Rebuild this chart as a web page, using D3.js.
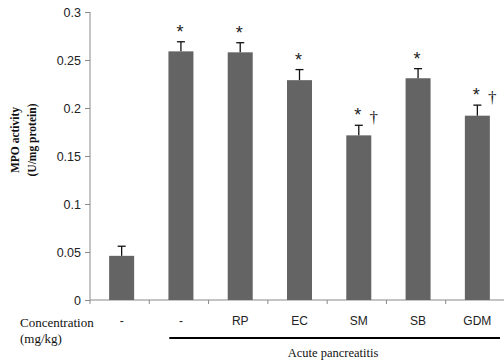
<!DOCTYPE html>
<html><head><meta charset="utf-8">
<script src="https://cdn.jsdelivr.net/npm/d3@7"></script>
<style>body{margin:0;background:#fff}svg{display:block}</style>
</head><body>
<script>
const categories = ["-", "-", "RP", "EC", "SM", "SB", "GDM"];
const values = [0.046, 0.259, 0.258, 0.229, 0.1715, 0.231, 0.192];
const errors = [0.010, 0.010, 0.010, 0.011, 0.0105, 0.010, 0.011];
const marks = ["", "*", "*", "*", "* †", "*", "* †"];
const yTicks = [0, 0.05, 0.1, 0.15, 0.2, 0.25, 0.3];

const W = 504, H = 362;
const svg = d3.select("body").append("svg").attr("width", W).attr("height", H);
const sans = "'Liberation Sans', Arial, sans-serif";
const serif = "'Liberation Serif', 'Times New Roman', serif";

const x = d3.scaleBand().domain(d3.range(categories.length)).range([90, 505]).paddingInner(0).paddingOuter(0);
const y = d3.scaleLinear().domain([0, 0.3]).range([300, 12]);
const bw = 25;

// y axis
const ya = svg.append("g").attr("transform", "translate(90,0)")
  .call(d3.axisLeft(y).tickValues(yTicks).tickSize(5).tickFormat(d => d === 0 ? "0" : String(d)));
ya.select(".domain").attr("stroke", "#8a8a8a").attr("d", "M0,12V300");
ya.selectAll(".tick line").attr("stroke", "#8a8a8a");
ya.selectAll(".tick text").attr("font-family", sans).attr("font-size", 12.5).attr("fill", "#222").attr("x", -9);

// x axis
const xa = svg.append("g").attr("transform", "translate(0,300)");
xa.append("line").attr("x1", 90).attr("x2", 504).attr("y1", 0).attr("y2", 0).attr("stroke", "#8a8a8a");
xa.selectAll("line.t").data(d3.range(categories.length)).join("line").attr("class", "t")
  .attr("x1", d => x(d)).attr("x2", d => x(d)).attr("y1", 0).attr("y2", 4).attr("stroke", "#8a8a8a");
xa.selectAll("text").data(categories).join("text")
  .attr("x", (d, i) => x(i) + x.bandwidth() / 2 + 2).attr("y", 25)
  .attr("text-anchor", "middle").attr("font-family", sans)
  .attr("font-size", 12).attr("fill", "#222").text(d => d);

// bars
svg.selectAll("rect.bar").data(values).join("rect").attr("class", "bar")
  .attr("x", (d, i) => x(i) + x.bandwidth() / 2 + 2 - bw / 2).attr("width", bw)
  .attr("y", d => y(d)).attr("height", d => 300 - y(d)).attr("fill", "#646464");

// error bars
const eb = svg.append("g").attr("stroke", "#111").attr("stroke-width", 1.3);
values.forEach((v, i) => {
  const cx = x(i) + x.bandwidth() / 2 + 2;
  eb.append("line").attr("x1", cx).attr("x2", cx).attr("y1", y(v)).attr("y2", y(v + errors[i]));
  eb.append("line").attr("x1", cx - 4).attr("x2", cx + 4).attr("y1", y(v + errors[i])).attr("y2", y(v + errors[i]));
});

// significance marks
values.forEach((v, i) => {
  const m = marks[i];
  if (!m) return;
  const cx = x(i) + x.bandwidth() / 2 + 2;
  const top = y(v + errors[i]);
  svg.append("text").attr("x", cx - 1).attr("y", top - 4).attr("text-anchor", "middle")
    .attr("font-family", sans).attr("font-size", 18).attr("fill", "#222").text("*");
  if (m.includes("†")) {
    svg.append("text").attr("x", cx + 15).attr("y", top - 2).attr("text-anchor", "middle")
      .attr("font-family", serif).attr("font-size", 17).attr("fill", "#222").text("†");
  }
});

// y title
const yt = svg.append("text").attr("transform", "translate(0,140) rotate(-90)")
  .attr("text-anchor", "middle").attr("font-family", serif)
  .attr("font-weight", "bold").attr("font-size", 11.5).attr("fill", "#111");
yt.append("tspan").attr("x", 0).attr("y", 19).text("MPO activity");
yt.append("tspan").attr("x", 0).attr("y", 36).text("(U/mg  protein)");

// bottom labels
svg.append("text").attr("x", 20).attr("y", 327).attr("font-family", serif).attr("font-size", 13).attr("fill", "#111").text("Concentration");
svg.append("text").attr("x", 20).attr("y", 343).attr("font-family", serif).attr("font-size", 13).attr("fill", "#111").text("(mg/kg)");
svg.append("line").attr("x1", x(1) + 20).attr("x2", 500).attr("y1", 338).attr("y2", 338).attr("stroke", "#000").attr("stroke-width", 2);
svg.append("text").attr("x", 333).attr("y", 357).attr("text-anchor", "middle").attr("font-family", serif).attr("font-size", 12.5).attr("fill", "#111").text("Acute pancreatitis");
</script>
</body></html>
